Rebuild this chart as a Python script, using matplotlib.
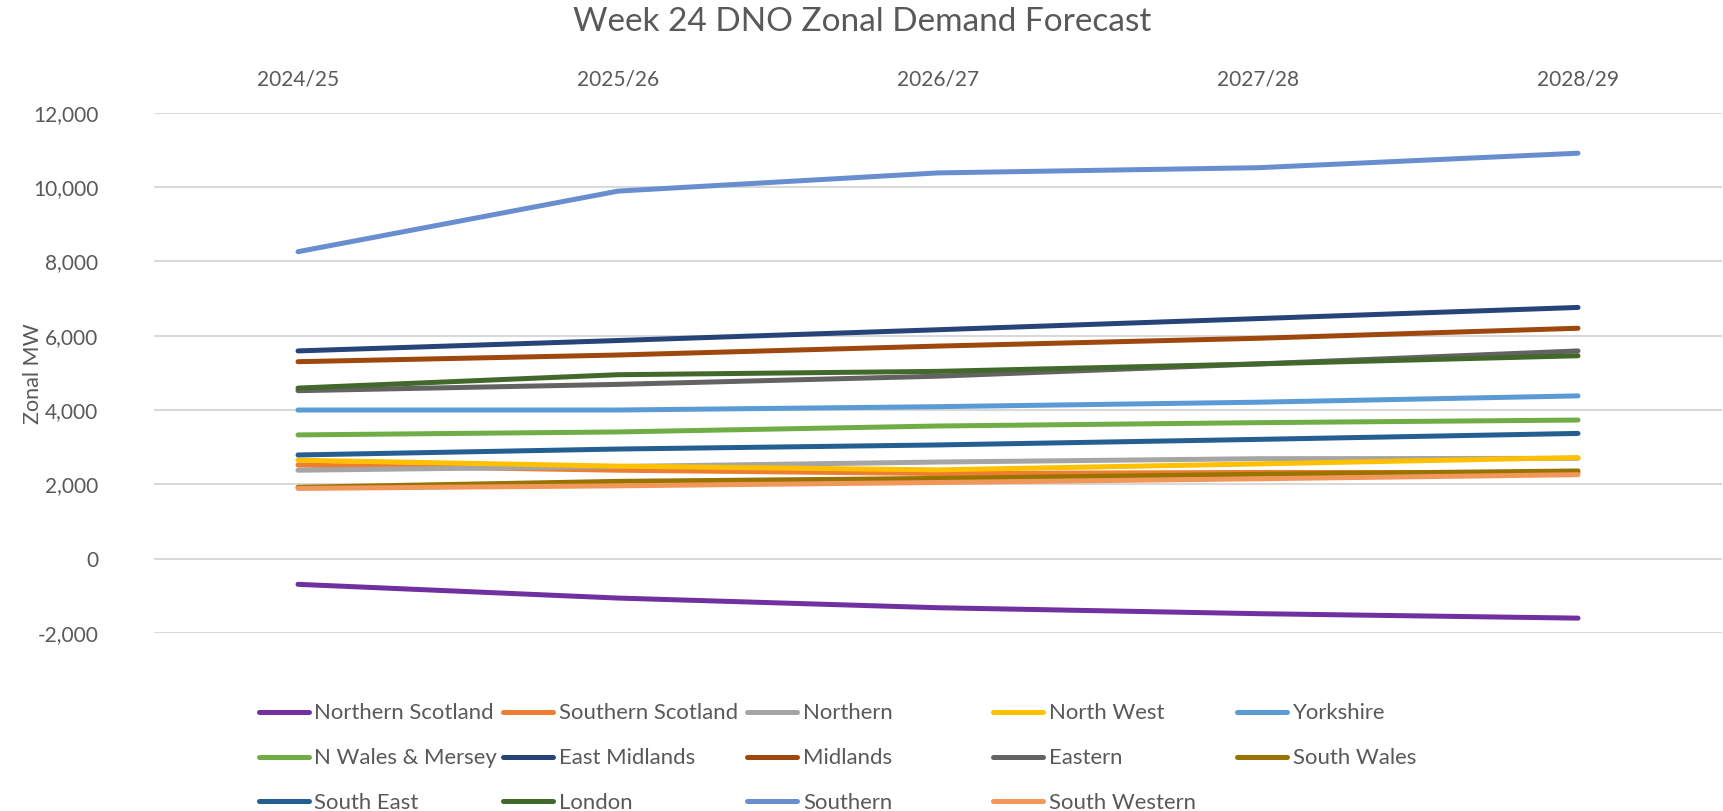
import matplotlib
matplotlib.use("Agg")
import matplotlib.pyplot as plt

plt.rcParams['font.family'] = ['Lato', 'DejaVu Sans']

years = ['2024/25', '2025/26', '2026/27', '2027/28', '2028/29']

northern_scotland = [-690, -1060, -1320, -1480, -1600]
southern_scotland = [2520, 2380, 2290, 2320, 2320]
northern = [2380, 2480, 2600, 2690, 2700]
north_west = [2650, 2490, 2390, 2550, 2720]
yorkshire = [4000, 4000, 4090, 4210, 4380]
n_wales_mersey = [3330, 3410, 3570, 3660, 3730]
east_midlands = [5590, 5870, 6160, 6460, 6760]
midlands = [5300, 5480, 5720, 5930, 6200]
eastern = [4520, 4690, 4910, 5240, 5590]
south_wales = [1920, 2080, 2160, 2270, 2360]
south_east = [2790, 2950, 3060, 3210, 3370]
london = [4590, 4950, 5040, 5240, 5460]
southern = [8260, 9890, 10380, 10520, 10910]
south_western = [1890, 1960, 2050, 2150, 2260]

series_names = ['Northern Scotland', 'Southern Scotland', 'Northern', 'North West',
                'Yorkshire', 'N Wales & Mersey', 'East Midlands', 'Midlands',
                'Eastern', 'South Wales', 'South East', 'London', 'Southern',
                'South Western']
series_values = [northern_scotland, southern_scotland, northern, north_west,
                 yorkshire, n_wales_mersey, east_midlands, midlands, eastern,
                 south_wales, south_east, london, southern, south_western]
series_colors = ['#7030A0', '#ED7D31', '#A5A5A5', '#FFC000', '#5B9BD5',
                 '#70AD47', '#264478', '#9E480E', '#636363', '#997300',
                 '#255E91', '#43682B', '#698ED0', '#F1975A']

TXT = '#595959'
W, H = 1724, 811
fig = plt.figure(figsize=(W / 100, H / 100), dpi=100)
left, right, top, bottom = 154, 1722, 112.7, 633.0
ax = fig.add_axes([left / W, 1 - bottom / H, (right - left) / W, (bottom - top) / H])

x = list(range(len(years)))
handles = []
for name, vals, col in zip(series_names, series_values, series_colors):
    ln, = ax.plot(x, vals, color=col, lw=3.6, solid_capstyle='round',
                  solid_joinstyle='round', label=name)
    handles.append(ln)

ax.set_xlim(-0.45, 4.45)
ax.set_ylim(-2000, 12000)
ax.set_yticks(range(-2000, 12001, 2000))
ax.set_yticklabels([f'{v:,}' for v in range(-2000, 12001, 2000)])
ax.set_xticks(x)
ax.set_xticklabels(years)
ax.xaxis.tick_top()
ax.tick_params(axis='x', length=0, pad=17, labelsize=15, labelcolor=TXT)
ax.tick_params(axis='y', length=0, pad=40, labelsize=15, labelcolor=TXT)
for s in ax.spines.values():
    s.set_visible(False)
ax.grid(axis='y', color='#D9D9D9', lw=1.5)
ax.set_axisbelow(True)

fig.text(33 / W, 1 - 374 / H, 'Zonal MW', rotation=90, ha='center', va='center',
         fontsize=15.5, color=TXT)
fig.text(0.5, 1 - 22 / H, 'Week 24 DNO Zonal Demand Forecast', ha='center',
         va='center', fontsize=24, color=TXT)

# legend: row-major layout, 5 fixed-width columns
col_x = [258.7, 503.5, 747.5, 993.5, 1237.5]
legend_top = 703.3
ncol = 5
for c in range(ncol):
    idx = [i for i in range(len(handles)) if i % ncol == c]
    fig.legend([handles[i] for i in idx], [series_names[i] for i in idx],
               loc='upper left',
               bbox_to_anchor=(col_x[c] / W, 1 - legend_top / H),
               frameon=False, fontsize=15.9, labelcolor=TXT,
               handlelength=2.26, handletextpad=0.25, borderpad=0,
               borderaxespad=0, labelspacing=1.13)

fig.savefig('out.png', dpi=100)
